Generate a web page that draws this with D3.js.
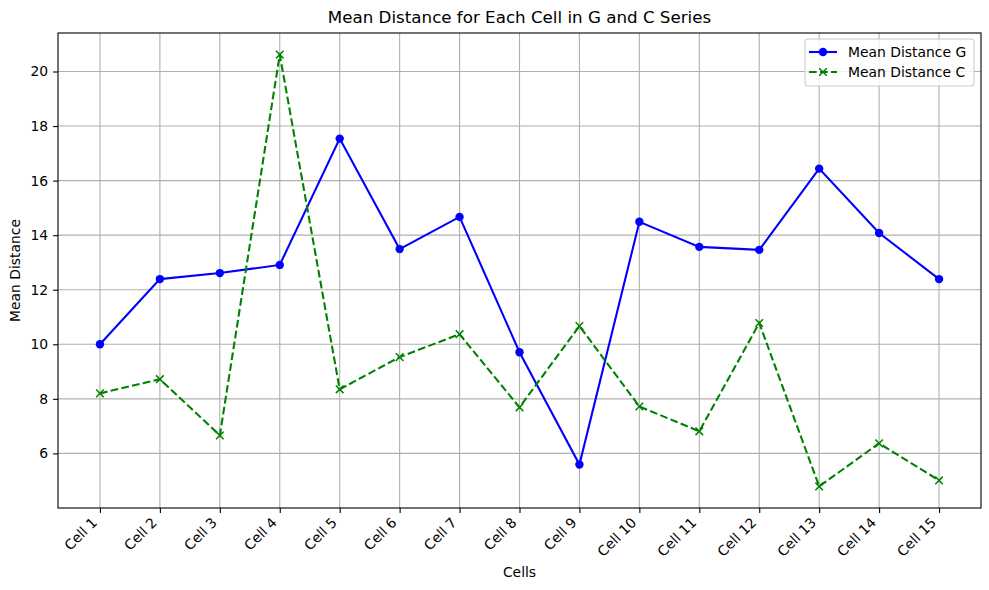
<!DOCTYPE html>
<html>
<head>
<meta charset="utf-8">
<script src="https://cdn.jsdelivr.net/npm/d3@7"></script>
<style>
  body { margin: 0; background: #fff; }
  text { font-family: "DejaVu Sans", sans-serif; }
</style>
</head>
<body>
<div id="chart"></div>
<script>
var cells = ["Cell 1","Cell 2","Cell 3","Cell 4","Cell 5","Cell 6","Cell 7","Cell 8",
             "Cell 9","Cell 10","Cell 11","Cell 12","Cell 13","Cell 14","Cell 15"];
var meanG = [10.0, 12.39, 12.61, 12.91, 17.54, 13.49, 14.67, 9.71, 5.59, 14.49, 13.57, 13.46, 16.44, 14.08, 12.39];
var meanC = [8.2, 8.72, 6.66, 20.62, 8.35, 9.53, 10.37, 7.69, 10.67, 7.72, 6.81, 10.78, 4.79, 6.37, 5.01];
var yTicks = [6, 8, 10, 12, 14, 16, 18, 20];

var width = 989, height = 590;
var margin = {top: 33, right: 8, bottom: 82, left: 58};
var w = width - margin.left - margin.right,
    h = height - margin.top - margin.bottom;
var fs = 13.9;
var lw = 2.08, dash = "7.7,3.3";

var svg = d3.select("#chart").append("svg")
  .attr("width", width).attr("height", height);

var g = svg.append("g")
  .attr("transform", "translate(" + margin.left + "," + margin.top + ")");

// matplotlib-ish 5% margins
var x = d3.scaleLinear().domain([-0.7, cells.length - 1 + 0.7]).range([0, w]);
var all = meanG.concat(meanC);
var lo = d3.min(all), hi = d3.max(all), pad = (hi - lo) * 0.05;
var y = d3.scaleLinear().domain([lo - pad, hi + pad]).range([h, 0]);

// grid
g.append("g").selectAll("line").data(cells).enter().append("line")
  .attr("x1", (d, i) => x(i)).attr("x2", (d, i) => x(i))
  .attr("y1", 0).attr("y2", h)
  .attr("stroke", "#b0b0b0").attr("stroke-width", 1.1);
g.append("g").selectAll("line").data(yTicks).enter().append("line")
  .attr("x1", 0).attr("x2", w)
  .attr("y1", d => y(d)).attr("y2", d => y(d))
  .attr("stroke", "#b0b0b0").attr("stroke-width", 1.1);

// axes
var xAxis = g.append("g").attr("transform", "translate(0," + h + ")")
  .call(d3.axisBottom(x).tickValues(d3.range(cells.length))
    .tickFormat(i => cells[i]).tickSize(4.9));
xAxis.selectAll("text")
  .attr("font-size", fs)
  .attr("text-anchor", "end")
  .attr("x", 0).attr("y", 0).attr("dy", "0.35em")
  .attr("transform", "translate(-6,12) rotate(-45)");

var yAxis = g.append("g")
  .call(d3.axisLeft(y).tickValues(yTicks).tickSize(4.9).tickPadding(4.9));
yAxis.selectAll("text").attr("font-size", fs);

[xAxis, yAxis].forEach(a => {
  a.select(".domain").remove();
  a.selectAll("line").attr("stroke", "#000").attr("stroke-width", 1.1);
  a.selectAll("text").attr("fill", "#000");
});

g.append("rect").attr("width", w).attr("height", h)
  .attr("fill", "none").attr("stroke", "#000").attr("stroke-width", 1.1);

// lines
var line = d3.line().x((d, i) => x(i)).y(d => y(d));
g.append("path").datum(meanG).attr("d", line)
  .attr("fill", "none").attr("stroke", "blue").attr("stroke-width", lw);
g.append("path").datum(meanC).attr("d", line)
  .attr("fill", "none").attr("stroke", "green").attr("stroke-width", lw)
  .attr("stroke-dasharray", dash);

g.append("g").selectAll("circle").data(meanG).enter().append("circle")
  .attr("cx", (d, i) => x(i)).attr("cy", d => y(d)).attr("r", 4.2)
  .attr("fill", "blue");

var xm = 3.8;
g.append("g").selectAll("path").data(meanC).enter().append("path")
  .attr("d", (d, i) => {
    var cx = x(i), cy = y(d);
    return "M" + (cx - xm) + "," + (cy - xm) + "L" + (cx + xm) + "," + (cy + xm) +
           "M" + (cx - xm) + "," + (cy + xm) + "L" + (cx + xm) + "," + (cy - xm);
  })
  .attr("stroke", "green").attr("stroke-width", 1.5).attr("fill", "none");

// titles
svg.append("text").attr("x", margin.left + w / 2).attr("y", 23)
  .attr("text-anchor", "middle").attr("font-size", 16.7)
  .text("Mean Distance for Each Cell in G and C Series");
svg.append("text").attr("x", margin.left + w / 2).attr("y", 577)
  .attr("text-anchor", "middle").attr("font-size", fs).text("Cells");
svg.append("text")
  .attr("transform", "translate(20," + (margin.top + h / 2) + ") rotate(-90)")
  .attr("text-anchor", "middle").attr("font-size", fs).text("Mean Distance");

// legend
var lg = g.append("g").attr("transform", "translate(" + (w - 176) + ",6)");
lg.append("rect").attr("width", 169).attr("height", 47).attr("rx", 3)
  .attr("fill", "white").attr("fill-opacity", 0.8)
  .attr("stroke", "#ccc").attr("stroke-width", 1.1);
var items = [
  {label: "Mean Distance G", color: "blue", dash: null, mark: "o"},
  {label: "Mean Distance C", color: "green", dash: dash, mark: "x"}
];
items.forEach((it, k) => {
  var yy = 13 + k * 20;
  lg.append("line").attr("x1", 4).attr("x2", 32).attr("y1", yy).attr("y2", yy)
    .attr("stroke", it.color).attr("stroke-width", lw)
    .attr("stroke-dasharray", it.dash);
  if (it.mark === "o") {
    lg.append("circle").attr("cx", 18).attr("cy", yy).attr("r", 4.2).attr("fill", it.color);
  } else {
    lg.append("path")
      .attr("d", "M" + (18 - xm) + "," + (yy - xm) + "L" + (18 + xm) + "," + (yy + xm) +
                 "M" + (18 - xm) + "," + (yy + xm) + "L" + (18 + xm) + "," + (yy - xm))
      .attr("stroke", it.color).attr("stroke-width", 1.5);
  }
  lg.append("text").attr("x", 43).attr("y", yy).attr("dy", "0.35em")
    .attr("font-size", fs).text(it.label);
});
</script>
</body>
</html>
